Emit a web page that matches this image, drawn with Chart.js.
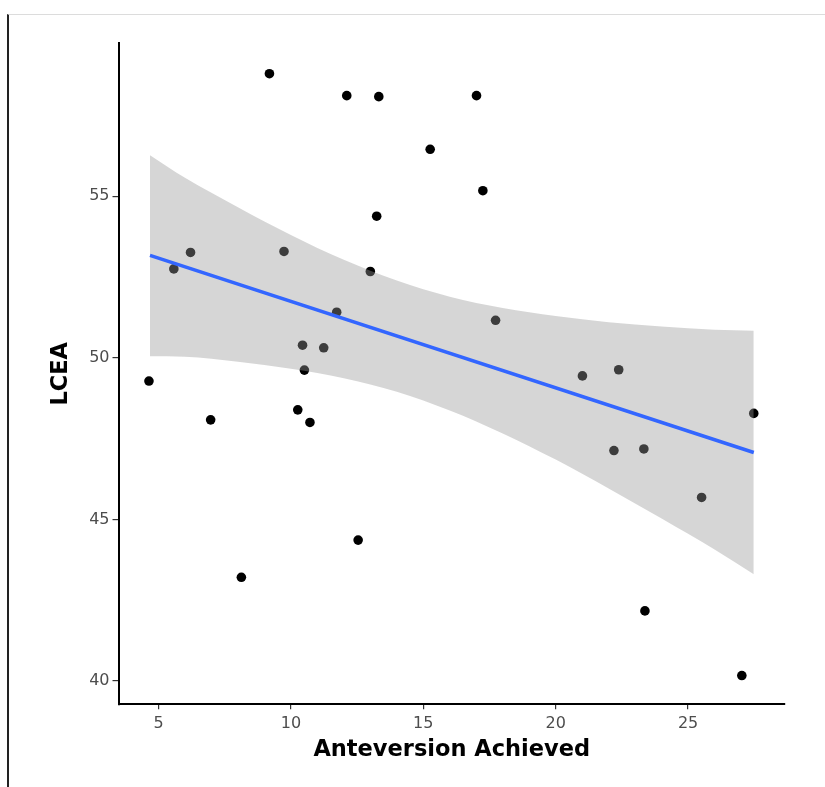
<!DOCTYPE html>
<html>
<head>
<meta charset="utf-8">
<script src="https://cdn.jsdelivr.net/npm/chart.js@4.4.0/dist/chart.umd.min.js"></script>
<style>
  html, body { margin: 0; padding: 0; background: #ffffff; }
  #wrap { position: relative; width: 825px; height: 787px; overflow: hidden; }
  #c { position: absolute; left: 0; top: 0; }
  #frame { position: absolute; left: 7px; top: 14px; width: 830px; height: 800px;
           border-top: 1px solid #dcdcdc; border-left: 2px solid #222; pointer-events: none; }
</style>
</head>
<body>
<div id="wrap">
  <canvas id="c" width="825" height="787"></canvas>
  <div id="frame"></div>
</div>
<script>
// Observed points
const anteversion = [4.64, 5.58, 6.21, 6.97, 8.13, 9.19, 9.74, 10.26, 10.44, 10.51, 10.72, 11.24, 11.73, 12.11, 12.54, 13.00, 13.24, 13.32, 15.26, 17.01, 17.25, 17.73, 21.01, 22.20, 22.38, 23.33, 23.37, 25.51, 27.03, 27.48];
const lcea = [49.28, 52.75, 53.26, 48.08, 43.21, 58.79, 53.29, 48.39, 50.39, 49.62, 48.00, 50.31, 51.41, 58.11, 44.36, 52.67, 54.38, 58.08, 56.45, 58.11, 55.17, 51.16, 49.44, 47.13, 49.63, 47.18, 42.17, 45.68, 40.17, 48.28];

const fitX = [4.68, 27.48];
const fitY = [53.17, 47.07];

// Confidence band
const bandX = [4.68, 6, 8, 10, 12, 14, 16, 18, 20, 22, 24, 26, 27.48];
const bandUpper = [56.27, 55.57, 54.66, 53.80, 53.03, 52.39, 51.89, 51.54, 51.29, 51.10, 50.97, 50.87, 50.84];
const bandLower = [50.05, 50.03, 49.88, 49.66, 49.37, 48.95, 48.37, 47.66, 46.85, 45.96, 45.03, 44.07, 43.30];

// Axes
const xTicks = [5, 10, 15, 20, 25];
const yTicks = [40, 45, 50, 55];
const xTitle = 'Anteversion Achieved';
const yTitle = 'LCEA';

const zip = (xs, ys) => xs.map((x, i) => ({ x: x, y: ys[i] }));

new Chart(document.getElementById('c'), {
  type: 'scatter',
  data: {
    datasets: [
      {
        type: 'line', label: 'fit', data: zip(fitX, fitY),
        borderColor: '#3366FF', borderWidth: 3.5, pointRadius: 0, fill: false, order: 0
      },
      {
        type: 'line', label: 'upper', data: zip(bandX, bandUpper),
        borderWidth: 0, borderColor: 'rgba(0,0,0,0)', pointRadius: 0,
        cubicInterpolationMode: 'monotone',
        backgroundColor: 'rgba(153,153,153,0.4)', fill: '+1', order: 1
      },
      {
        type: 'line', label: 'lower', data: zip(bandX, bandLower),
        borderWidth: 0, borderColor: 'rgba(0,0,0,0)', pointRadius: 0,
        cubicInterpolationMode: 'monotone', fill: false, order: 1
      },
      {
        type: 'scatter', label: 'points', data: zip(anteversion, lcea),
        backgroundColor: '#000000', borderWidth: 0, pointRadius: 4.8, order: 2
      }
    ]
  },
  options: {
    responsive: false,
    animation: false,
    devicePixelRatio: 1,
    layout: { padding: { left: 47.5, right: 40, top: 43.3, bottom: 23 } },
    plugins: { legend: { display: false }, tooltip: { enabled: false } },
    scales: {
      x: {
        type: 'linear', min: 3.49, max: 28.66,
        afterBuildTicks: s => { s.ticks = xTicks.map(v => ({ value: v })); },
        afterFit: s => { s.height = 59.7; },
        grid: { drawOnChartArea: false, drawTicks: true, tickLength: 5, color: '#333333', lineWidth: 1.2 },
        border: { display: true, color: '#000000', width: 2 },
        ticks: { color: '#4d4d4d', padding: 5, font: { family: 'DejaVu Sans', size: 16 }, maxRotation: 0 },
        title: { display: true, text: xTitle, color: '#000000', padding: 0,
                 font: { family: 'DejaVu Sans', size: 22.5, weight: 'bold' } }
      },
      y: {
        type: 'linear', min: 39.28, max: 59.73,
        afterBuildTicks: s => { s.ticks = yTicks.map(v => ({ value: v })); },
        afterFit: s => { s.width = 71; },
        grid: { drawOnChartArea: false, drawTicks: true, tickLength: 6, color: '#333333', lineWidth: 1.2 },
        border: { display: true, color: '#000000', width: 2 },
        ticks: { color: '#4d4d4d', padding: 3, font: { family: 'DejaVu Sans', size: 16 } },
        title: { display: true, text: yTitle, color: '#000000', padding: 0,
                 font: { family: 'DejaVu Sans', size: 22.5, weight: 'bold' } }
      }
    }
  }
});
</script>
</body>
</html>
